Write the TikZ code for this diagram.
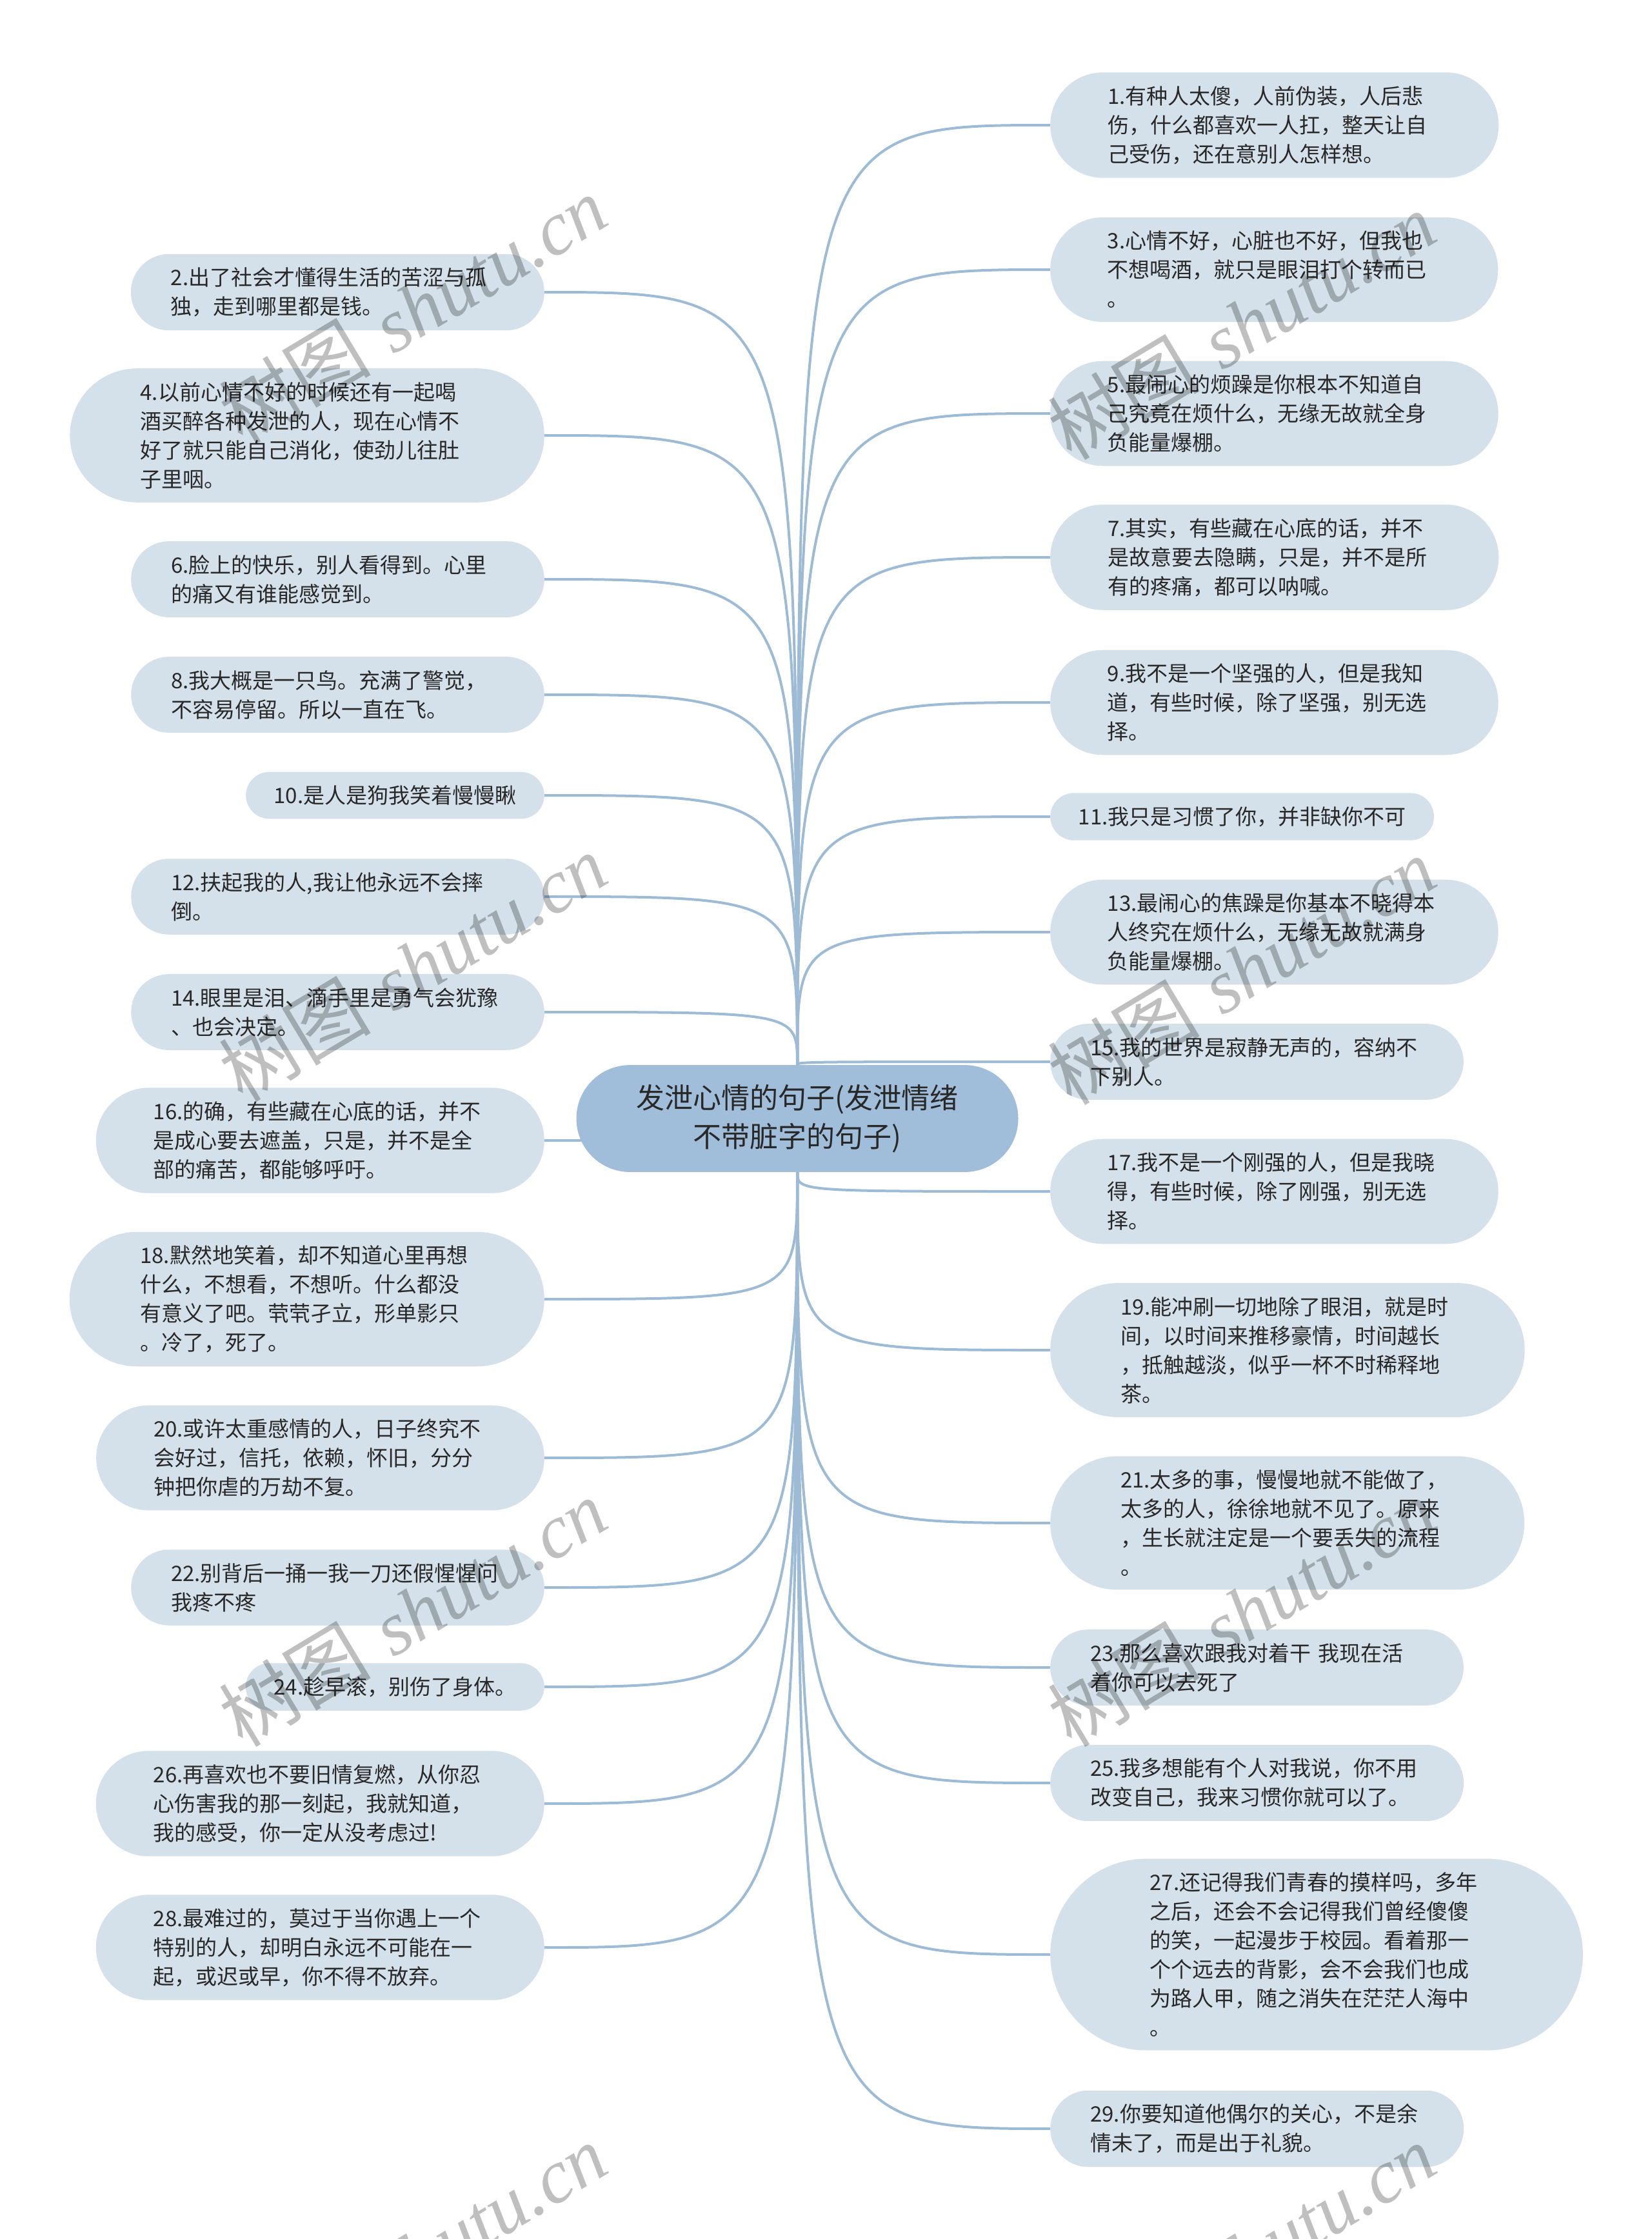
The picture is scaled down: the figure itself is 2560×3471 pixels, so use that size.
\documentclass[tikz,border=0pt]{standalone}
\usepackage{fontspec}
\newfontfamily\cjk{Noto Sans CJK SC}
\newfontfamily\wmserif{Liberation Serif}
\usetikzlibrary{shapes.misc,backgrounds}

\definecolor{rootblue}{RGB}{160,190,218}
\definecolor{leafblue}{RGB}{212,225,234}
\definecolor{linkblue}{RGB}{158,187,214}
\definecolor{inkgray}{RGB}{40,40,40}

\tikzset{
  leaf/.style={rounded rectangle, fill=leafblue, text=inkgray, align=left,
    inner ysep=21pt, font=\cjk\fontsize{33}{45}\selectfont},
  oneline/.style={inner xsep=40pt},
  twoline/.style={inner xsep=48pt, text width=517pt},
  threeline/.style={inner xsep=62pt, text width=517pt},
  fourline/.style={inner xsep=68pt, text width=517pt},
  sixline/.style={inner xsep=82pt, text width=517pt},
  rleaf/.style={leaf, anchor=west, #1},
  lleaf/.style={leaf, anchor=east, #1},
  topic/.style={rounded rectangle, fill=rootblue, text=inkgray, align=center,
    inner xsep=74pt, inner ysep=30pt, font=\cjk\fontsize{44}{60}\selectfont},
  link/.style={draw=linkblue, line width=4pt},
  wmark/.style={text=black, opacity=.25, rotate=31, font=\fontsize{118}{140}\selectfont}
}

\begin{document}
\begin{tikzpicture}[x=1pt,y=-1pt]
  \useasboundingbox (0,0) rectangle (2560,3471);

  \node[topic] (root) at (1236,1734) {发泄心情的句子(发泄情绪\\不带脏字的句子)};

  \node[rleaf=threeline] (r1) at (1628,194) {1.有种人太傻，人前伪装，人后悲\\伤，什么都喜欢一人扛，整天让自\\己受伤，还在意别人怎样想。};
  \node[rleaf=threeline] (r3) at (1628,418) {3.心情不好，心脏也不好，但我也\\不想喝酒，就只是眼泪打个转而已\\。};
  \node[rleaf=threeline] (r5) at (1628,641) {5.最闹心的烦躁是你根本不知道自\\己究竟在烦什么，无缘无故就全身\\负能量爆棚。};
  \node[rleaf=threeline] (r7) at (1628,864) {7.其实，有些藏在心底的话，并不\\是故意要去隐瞒，只是，并不是所\\有的疼痛，都可以呐喊。};
  \node[rleaf=threeline] (r9) at (1628,1089) {9.我不是一个坚强的人，但是我知\\道，有些时候，除了坚强，别无选\\择。};
  \node[rleaf=oneline] (r11) at (1628,1266) {11.我只是习惯了你，并非缺你不可};
  \node[rleaf=threeline] (r13) at (1628,1445) {13.最闹心的焦躁是你基本不晓得本\\人终究在烦什么，无缘无故就满身\\负能量爆棚。};
  \node[rleaf=twoline] (r15) at (1628,1646) {15.我的世界是寂静无声的，容纳不\\下别人。};
  \node[rleaf=threeline] (r17) at (1628,1847) {17.我不是一个刚强的人，但是我晓\\得，有些时候，除了刚强，别无选\\择。};
  \node[rleaf=fourline] (r19) at (1628,2093) {19.能冲刷一切地除了眼泪，就是时\\间，以时间来推移豪情，时间越长\\，抵触越淡，似乎一杯不时稀释地\\茶。};
  \node[rleaf=fourline] (r21) at (1628,2361) {21.太多的事，慢慢地就不能做了，\\太多的人，徐徐地就不见了。原来\\，生长就注定是一个要丢失的流程\\。};
  \node[rleaf=twoline] (r23) at (1628,2585) {23.那么喜欢跟我对着干 我现在活\\着你可以去死了};
  \node[rleaf=twoline] (r25) at (1628,2764) {25.我多想能有个人对我说，你不用\\改变自己，我来习惯你就可以了。};
  \node[rleaf=sixline] (r27) at (1628,3030) {27.还记得我们青春的摸样吗，多年\\之后，还会不会记得我们曾经傻傻\\的笑，一起漫步于校园。看着那一\\个个远去的背影，会不会我们也成\\为路人甲，随之消失在茫茫人海中\\。};
  \node[rleaf=twoline] (r29) at (1628,3300) {29.你要知道他偶尔的关心，不是余\\情未了，而是出于礼貌。};

  \node[lleaf=twoline] (l2) at (844,453) {2.出了社会才懂得生活的苦涩与孤\\独，走到哪里都是钱。};
  \node[lleaf=fourline] (l4) at (844,675) {4.以前心情不好的时候还有一起喝\\酒买醉各种发泄的人，现在心情不\\好了就只能自己消化，使劲儿往肚\\子里咽。};
  \node[lleaf=twoline] (l6) at (844,898) {6.脸上的快乐，别人看得到。心里\\的痛又有谁能感觉到。};
  \node[lleaf=twoline] (l8) at (844,1077) {8.我大概是一只鸟。充满了警觉，\\不容易停留。所以一直在飞。};
  \node[lleaf=oneline] (l10) at (844,1233) {10.是人是狗我笑着慢慢瞅};
  \node[lleaf=twoline] (l12) at (844,1390) {12.扶起我的人,我让他永远不会摔\\倒。};
  \node[lleaf=twoline] (l14) at (844,1569) {14.眼里是泪、滴手里是勇气会犹豫\\、也会决定。};
  \node[lleaf=threeline] (l16) at (844,1768) {16.的确，有些藏在心底的话，并不\\是成心要去遮盖，只是，并不是全\\部的痛苦，都能够呼吁。};
  \node[lleaf=fourline] (l18) at (844,2014) {18.默然地笑着，却不知道心里再想\\什么，不想看，不想听。什么都没\\有意义了吧。茕茕孑立，形单影只\\。冷了，死了。};
  \node[lleaf=threeline] (l20) at (844,2260) {20.或许太重感情的人，日子终究不\\会好过，信托，依赖，怀旧，分分\\钟把你虐的万劫不复。};
  \node[lleaf=twoline] (l22) at (844,2461) {22.别背后一捅一我一刀还假惺惺问\\我疼不疼};
  \node[lleaf=oneline] (l24) at (844,2615) {24.趁早滚，别伤了身体。};
  \node[lleaf=threeline] (l26) at (844,2796) {26.再喜欢也不要旧情复燃，从你忍\\心伤害我的那一刻起，我就知道，\\我的感受，你一定从没考虑过!};
  \node[lleaf=threeline] (l28) at (844,3019) {28.最难过的，莫过于当你遇上一个\\特别的人，却明白永远不可能在一\\起，或迟或早，你不得不放弃。};

  \begin{scope}[on background layer]
    \fill[white] (0,0) rectangle (2560,3471);
    \foreach \leafno/\side in {1/north,3/north,5/north,7/north,9/north,11/north,13/north,15/north,17/south,19/south,21/south,23/south,25/south,27/south,29/south}
      \draw[link] (root.\side) .. controls (root.\side |- r\leafno.west) .. (r\leafno.west);
    \foreach \leafno/\side in {2/north,4/north,6/north,8/north,10/north,12/north,14/north,16/south,18/south,20/south,22/south,24/south,26/south,28/south}
      \draw[link] (root.\side) .. controls (root.\side |- l\leafno.east) .. (l\leafno.east);
  \end{scope}

  \node[wmark] (wm1) at (640,480) {{\cjk 树图} {\wmserif\itshape shutu.cn}};
  \node[wmark] (wm2) at (1925,505) {{\cjk 树图} {\wmserif\itshape shutu.cn}};
  \node[wmark] (wm3) at (640,1500) {{\cjk 树图} {\wmserif\itshape shutu.cn}};
  \node[wmark] (wm4) at (1925,1505) {{\cjk 树图} {\wmserif\itshape shutu.cn}};
  \node[wmark] (wm5) at (640,2500) {{\cjk 树图} {\wmserif\itshape shutu.cn}};
  \node[wmark] (wm6) at (1925,2500) {{\cjk 树图} {\wmserif\itshape shutu.cn}};
  \node[wmark] (wm7) at (640,3500) {{\cjk 树图} {\wmserif\itshape shutu.cn}};
  \node[wmark] (wm8) at (1925,3500) {{\cjk 树图} {\wmserif\itshape shutu.cn}};
\end{tikzpicture}
\end{document}
